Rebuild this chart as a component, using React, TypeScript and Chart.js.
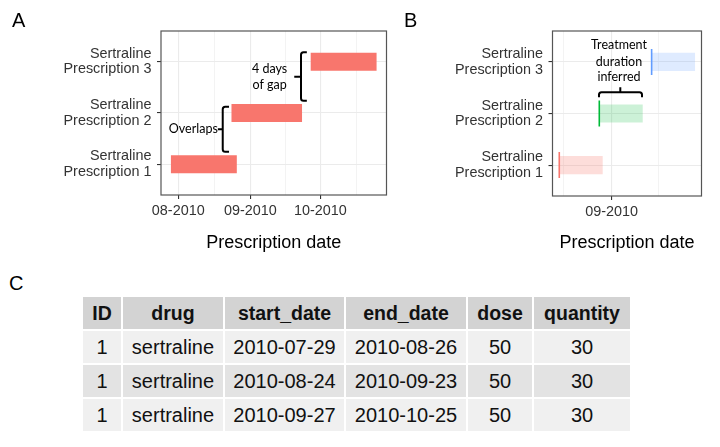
import React, { useEffect, useRef } from 'react';
import { Chart, registerables } from 'chart.js';

Chart.register(...registerables);

// ---------------- data ----------------
const prescriptionIds = ['1', '1', '1'];
const drugNames = ['sertraline', 'sertraline', 'sertraline'];
const startDates = ['2010-07-29', '2010-08-24', '2010-09-27'];
const endDates = ['2010-08-26', '2010-09-23', '2010-10-25'];
const inferredEndDates = ['2010-08-26', '2010-09-21', '2010-10-25'];
const doses = [50, 50, 50];
const quantities = [30, 30, 30];
const rowPositions = [1, 2, 3];
const rowLabels = [
  ['Sertraline', 'Prescription 1'],
  ['Sertraline', 'Prescription 2'],
  ['Sertraline', 'Prescription 3'],
];
const tableColumns = ['ID', 'drug', 'start_date', 'end_date', 'dose', 'quantity'];
const majorBreaksA = ['2010-07-01', '2010-08-01', '2010-09-01', '2010-10-01', '2010-11-01'];
const majorBreaksB = ['2010-07-01', '2010-09-01', '2010-11-01'];
const axisTitle = 'Prescription date';
const gapText = ['4 days', 'of gap'];
const overlapText = 'Overlaps';
const inferredText = ['Treatment', 'duration', 'inferred'];

const barColorA = '#F8766D';
const groupColors = ['#F8766D', '#00BA38', '#619CFF'];
const groupFills = ['rgba(248,118,109,0.25)', 'rgba(0,186,56,0.2)', 'rgba(97,156,255,0.2)'];

// ---------------- helpers ----------------
const day = (s: string) =>
  Date.UTC(+s.slice(0, 4), +s.slice(5, 7) - 1, +s.slice(8, 10)) / 86400000;
const fmtMonth = (v: number) => {
  const d = new Date(v * 86400000);
  return String(d.getUTCMonth() + 1).padStart(2, '0') + '-' + d.getUTCFullYear();
};

const FONT = '"Liberation Sans", Arial, sans-serif';
Chart.defaults.font.family = FONT;

const dataMin = Math.min(...startDates.map(day));
const dataMax = Math.max(...endDates.map(day));
const pad = 0.05 * (dataMax - dataMin);
const xMin = dataMin - pad;
const xMax = dataMax + pad;

function xScale(majors: string[], axisHeight: number) {
  const majorVals = majors.map(day);
  const minorVals: number[] = [];
  for (let i = 0; i < majorVals.length - 1; i++) minorVals.push((majorVals[i] + majorVals[i + 1]) / 2);
  const isMinor = (v: number) => minorVals.includes(v);
  return {
    type: 'linear',
    min: xMin,
    max: xMax,
    bounds: 'data',
    offset: false,
    afterBuildTicks: (scale: any) => {
      scale.ticks = [...majorVals, ...minorVals]
        .filter((v) => v >= xMin && v <= xMax)
        .sort((a, b) => a - b)
        .map((v) => ({ value: v }));
    },
    afterFit: (scale: any) => {
      scale.height = axisHeight;
    },
    ticks: {
      autoSkip: false,
      maxRotation: 0,
      minRotation: 0,
      padding: 3,
      color: '#333333',
      font: { size: 14.4, family: FONT },
      callback: (v: number) => (majorVals.includes(v) ? fmtMonth(v) : ''),
    },
    grid: {
      offset: false,
      color: '#EBEBEB',
      lineWidth: (c: any) => (c.tick && isMinor(c.tick.value) ? 0.6 : 1.1),
      tickColor: (c: any) => (c.tick && isMinor(c.tick.value) ? 'rgba(0,0,0,0)' : '#333333'),
      tickWidth: 1.1,
      tickLength: 4,
      drawTicks: true,
    },
    border: { display: false },
    title: {
      display: true,
      text: axisTitle,
      color: '#000000',
      font: { size: 18, family: FONT },
      padding: { top: 0, bottom: 6.5 },
    },
  };
}

function yScale(axisWidth: number) {
  return {
    type: 'linear',
    min: 0.4,
    max: 3.6,
    bounds: 'data',
    offset: false,
    afterBuildTicks: (scale: any) => {
      scale.ticks = rowPositions.map((v) => ({ value: v }));
    },
    afterFit: (scale: any) => {
      scale.width = axisWidth;
    },
    ticks: {
      autoSkip: false,
      padding: 5.5,
      color: '#333333',
      font: { size: 14.4, family: FONT, lineHeight: 1.08 },
      callback: (v: number) => rowLabels[rowPositions.indexOf(v)],
    },
    grid: {
      offset: false,
      color: '#EBEBEB',
      lineWidth: 1.1,
      tickColor: '#333333',
      tickWidth: 1.1,
      tickLength: 4,
    },
    border: { display: false },
  };
}

const panelBorder = {
  id: 'panelBorder',
  afterDatasetsDraw(chart: any) {
    const { ctx, chartArea } = chart;
    ctx.save();
    ctx.strokeStyle = '#555555';
    ctx.lineWidth = 1.2;
    ctx.strokeRect(chartArea.left, chartArea.top, chartArea.right - chartArea.left, chartArea.bottom - chartArea.top);
    ctx.restore();
  },
};

function vBrace(ctx: any, x: number, yTop: number, yBot: number, xHook: number, xNotch: number, yMid: number) {
  ctx.beginPath();
  ctx.moveTo(xHook, yTop);
  ctx.arcTo(x, yTop, x, yBot, 2.5);
  ctx.arcTo(x, yBot, xHook, yBot, 2.5);
  ctx.lineTo(xHook, yBot);
  ctx.moveTo(x, yMid);
  ctx.lineTo(xNotch, yMid);
  ctx.stroke();
}

function hBrace(ctx: any, y: number, xL: number, xR: number, yHook: number, xMid: number, yNotch: number) {
  ctx.beginPath();
  ctx.moveTo(xL, yHook);
  ctx.arcTo(xL, y, xR, y, 2.5);
  ctx.arcTo(xR, y, xR, yHook, 2.5);
  ctx.lineTo(xR, yHook);
  ctx.moveTo(xMid, y);
  ctx.lineTo(xMid, yNotch);
  ctx.stroke();
}

const annotA = {
  id: 'annotA',
  afterDatasetsDraw(chart: any) {
    const { ctx } = chart;
    const X = (v: number) => chart.scales.x.getPixelForValue(v);
    const Y = (v: number) => chart.scales.y.getPixelForValue(v);
    ctx.save();
    ctx.strokeStyle = '#000000';
    ctx.lineWidth = 2;
    // gap between prescription 2 and 3
    vBrace(ctx, X(day(endDates[1]) - 0.3), Y(3.184), Y(2.24), X(day('2010-09-25') + 0.2), X(day('2010-09-20') - 0.2), Y(2.708));
    // overlap between prescription 1 and 2
    vBrace(ctx, X(day('2010-08-20') + 0.1), Y(2.123), Y(1.245), X(day('2010-08-22') + 0.8), X(day('2010-08-18')), Y(1.682));
    ctx.fillStyle = '#000000';
    ctx.font = '12.5px Lato';
    ctx.textBaseline = 'middle';
    ctx.textAlign = 'center';
    ctx.fillText(gapText[0], X(day('2010-09-09') + 0.2), Y(2.853));
    ctx.fillText(gapText[1], X(day('2010-09-09') + 0.2), Y(2.546));
    ctx.textAlign = 'right';
    ctx.fillText(overlapText, X(day('2010-08-18')), Y(1.682));
    ctx.restore();
  },
};

const annotB = {
  id: 'annotB',
  afterDatasetsDraw(chart: any) {
    const { ctx } = chart;
    const X = (v: number) => chart.scales.x.getPixelForValue(v);
    const Y = (v: number) => chart.scales.y.getPixelForValue(v);
    ctx.save();
    ctx.strokeStyle = '#000000';
    ctx.lineWidth = 2;
    hBrace(ctx, Y(2.411), X(day(startDates[1]) - 0.2), X(day(inferredEndDates[1]) - 0.25), Y(2.314), X(day('2010-09-06') + 0.65), Y(2.508));
    ctx.fillStyle = '#000000';
    ctx.font = '12.5px Lato';
    ctx.textBaseline = 'middle';
    ctx.textAlign = 'center';
    const cx = X(day('2010-09-05') + 0.8);
    ctx.fillText(inferredText[0], cx, Y(3.329));
    ctx.fillText(inferredText[1], cx, Y(3.005));
    ctx.fillText(inferredText[2], cx, Y(2.714));
    ctx.restore();
  },
};

function baseOptions(padRight: number, xs: any, ys: any) {
  return {
    indexAxis: 'y',
    responsive: false,
    animation: false,
    events: [],
    layout: { padding: { top: 31, right: padRight, left: 0, bottom: 0 } },
    plugins: { legend: { display: false }, tooltip: { enabled: false }, title: { display: false } },
    scales: { x: xs, y: ys },
  };
}

function buildA(): any {
  return {
    type: 'bar',
    data: {
      datasets: [
        {
          type: 'bar',
          data: rowPositions.map((p, i) => ({ x: [day(startDates[i]), day(endDates[i])], y: p })),
          backgroundColor: barColorA,
          borderWidth: 0,
          barThickness: 17.5,
        },
      ],
    },
    options: baseOptions(8.5, xScale(majorBreaksA, 65), yScale(161)),
    plugins: [panelBorder, annotA],
  };
}

function buildB(): any {
  return {
    type: 'bar',
    data: {
      datasets: [
        {
          type: 'bar',
          data: rowPositions.map((p, i) => ({ x: [day(startDates[i]), day(inferredEndDates[i])], y: p })),
          backgroundColor: groupFills,
          borderWidth: 0,
          barThickness: 17.5,
          order: 2,
        },
        {
          type: 'scatter',
          data: rowPositions.map((p, i) => ({ x: day(startDates[i]), y: p })),
          showLine: false,
          pointStyle: 'line',
          pointRadius: 13,
          pointRotation: 90,
          pointBorderWidth: 1.6,
          pointBorderColor: groupColors,
          pointBackgroundColor: groupColors,
          order: 1,
        },
      ],
    },
    options: baseOptions(18.5, xScale(majorBreaksB, 64), yScale(162.5)),
    plugins: [panelBorder, annotB],
  };
}

function ChartCanvas({ build, left, top, width, height }: any) {
  const ref = useRef<HTMLCanvasElement>(null);
  useEffect(() => {
    const chart = new Chart(ref.current as HTMLCanvasElement, build());
    return () => chart.destroy();
  }, []);
  return (
    <canvas
      ref={ref}
      width={width}
      height={height}
      style={{ position: 'absolute', left, top, width, height, display: 'block' }}
    />
  );
}

const colWidths = [38, 100, 119, 120, 64, 96];
const rowBgs = ['#F0F0F0', '#E3E3E3', '#F0F0F0'];

function DataTable() {
  const cell: React.CSSProperties = { padding: 0, textAlign: 'center', verticalAlign: 'middle', whiteSpace: 'nowrap' };
  return (
    <table
      style={{
        position: 'absolute',
        left: 81,
        top: 295,
        borderCollapse: 'separate',
        borderSpacing: 2,
        tableLayout: 'fixed',
        width: colWidths.reduce((a, b) => a + b, 0) + 2 * (colWidths.length + 1),
        fontFamily: FONT,
        fontSize: 20,
        color: '#111111',
      }}
    >
      <colgroup>
        {colWidths.map((w, i) => (
          <col key={i} style={{ width: w }} />
        ))}
      </colgroup>
      <thead>
        <tr style={{ height: 32 }}>
          {tableColumns.map((c) => (
            <th key={c} style={{ ...cell, background: '#D3D3D3', fontWeight: 'bold', fontSize: 19.5 }}>
              {c}
            </th>
          ))}
        </tr>
      </thead>
      <tbody>
        {startDates.map((s, i) => (
          <tr key={i} style={{ height: 32, background: rowBgs[i] }}>
            <td style={cell}>{prescriptionIds[i]}</td>
            <td style={cell}>{drugNames[i]}</td>
            <td style={cell}>{s}</td>
            <td style={cell}>{endDates[i]}</td>
            <td style={cell}>{doses[i]}</td>
            <td style={cell}>{quantities[i]}</td>
          </tr>
        ))}
      </tbody>
    </table>
  );
}

const letterStyle: React.CSSProperties = {
  position: 'absolute',
  fontFamily: FONT,
  fontSize: 20,
  lineHeight: '20px',
  color: '#000000',
};

export default function App() {
  return (
    <div style={{ position: 'absolute', left: 0, top: 0, width: 720, height: 447, background: '#ffffff', overflow: 'hidden' }}>
      <ChartCanvas build={buildA} left={0} top={0} width={395} height={260} />
      <ChartCanvas build={buildB} left={390} top={0} width={330} height={260} />
      <div style={{ ...letterStyle, left: 12, top: 10 }}>A</div>
      <div style={{ ...letterStyle, left: 404, top: 10 }}>B</div>
      <div style={{ ...letterStyle, left: 9, top: 273 }}>C</div>
      <DataTable />
    </div>
  );
}
